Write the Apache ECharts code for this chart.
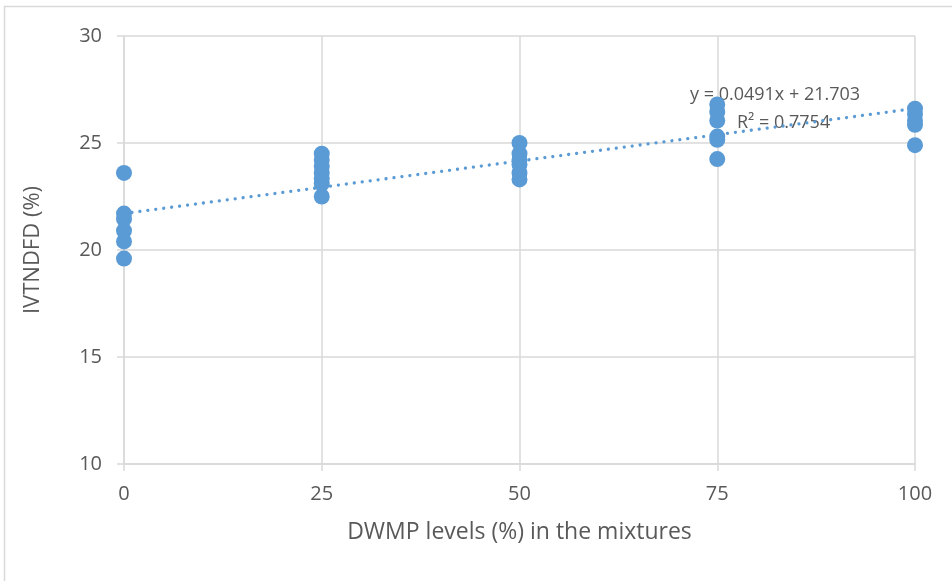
<!DOCTYPE html>
<html>
<head>
<meta charset="utf-8">
<script src="https://cdn.jsdelivr.net/npm/echarts@6/dist/echarts.min.js"></script>
<style>html,body{margin:0;padding:0;background:#fff}#c{width:952px;height:581px}</style>
</head>
<body>
<div id="c"></div>
<script>
// DWMP levels (%) and IVTNDFD (%) values
const levels0 = [0, 0, 0, 0, 0, 0];
const values0 = [23.6, 21.7, 21.45, 20.9, 20.4, 19.6];
const levels25 = [25, 25, 25, 25, 25, 25, 25];
const values25 = [24.5, 24.2, 23.9, 23.6, 23.35, 23.1, 22.5];
const levels50 = [50, 50, 50, 50, 50, 50];
const values50 = [25.0, 24.5, 24.2, 24.0, 23.6, 23.3];
const levels75 = [75, 75, 75, 75, 75, 75];
const values75 = [26.8, 26.45, 26.05, 25.3, 25.15, 24.25];
const levels100 = [100, 100, 100, 100, 100];
const values100 = [26.6, 26.35, 26.05, 25.85, 24.9];
const xTicks = [0, 25, 50, 75, 100];
const yTicks = [10, 15, 20, 25, 30];
const slope = 0.0491, intercept = 21.703, r2 = 0.7754;
const xTitle = 'DWMP levels (%) in the mixtures';
const yTitle = 'IVTNDFD (%)';

const allX = [].concat(levels0, levels25, levels50, levels75, levels100);
const allY = [].concat(values0, values25, values50, values75, values100);
const points = allX.map((x, i) => [x, allY[i]]);
const trend = [[xTicks[0], intercept + slope * xTicks[0]], [xTicks[xTicks.length-1], intercept + slope * xTicks[xTicks.length-1]]];

const font = 'Open Sans';
const gray = '#595959';
const chart = echarts.init(document.getElementById('c'));
chart.setOption({
  animation: false,
  backgroundColor: '#fff',
  grid: { left: 124, right: 37, top: 36, bottom: 117 },
  xAxis: {
    type: 'value', min: 0, max: 100, interval: 25,
    name: xTitle, nameLocation: 'middle', nameGap: 57,
    nameTextStyle: { fontFamily: font, fontSize: 23, color: gray },
    axisLine: { show: true, lineStyle: { color: '#d9d9d9', width: 1.5 } },
    axisTick: { show: true, length: 7, lineStyle: { color: '#d9d9d9', width: 1.5 } },
    axisLabel: { fontFamily: font, fontSize: 20, color: gray, margin: 20 },
    splitLine: { show: true, lineStyle: { color: '#d9d9d9', width: 1.5 } }
  },
  yAxis: {
    type: 'value', min: 10, max: 30, interval: 5,
    name: yTitle, nameLocation: 'middle', nameGap: 80, nameRotate: 90,
    nameTextStyle: { fontFamily: font, fontSize: 22, color: gray },
    axisLine: { show: true, lineStyle: { color: '#d9d9d9', width: 1.5 } },
    axisTick: { show: true, length: 7, lineStyle: { color: '#d9d9d9', width: 1.5 } },
    axisLabel: { fontFamily: font, fontSize: 20, color: gray, margin: 22 },
    splitLine: { show: true, lineStyle: { color: '#d9d9d9', width: 1.5 } }
  },
  graphic: [
    { type: 'rect', z: -10, shape: { x: 4.5, y: 6.5, width: 1000, height: 700 }, style: { fill: 'none', stroke: '#d9d9d9', lineWidth: 1.5 } },
    { type: 'text', z: 0, left: 690, top: 86, style: { text: 'y = ' + slope + 'x + ' + intercept, font: '18px "Open Sans"', fill: gray } },
    { type: 'text', z: 0, left: 737, top: 114, style: { text: 'R² = ' + r2, font: '18px "Open Sans"', fill: gray } }
  ],
  series: [
    {
      type: 'line', data: trend, symbol: 'none', z: 3,
      lineStyle: { color: '#5b9bd5', width: 3.3, type: [0.01, 8], cap: 'round' }
    },
    {
      type: 'scatter', data: points, symbolSize: 16, z: 4,
      itemStyle: { color: '#5b9bd5', opacity: 1 }
    }
  ]
});
</script>
</body>
</html>
